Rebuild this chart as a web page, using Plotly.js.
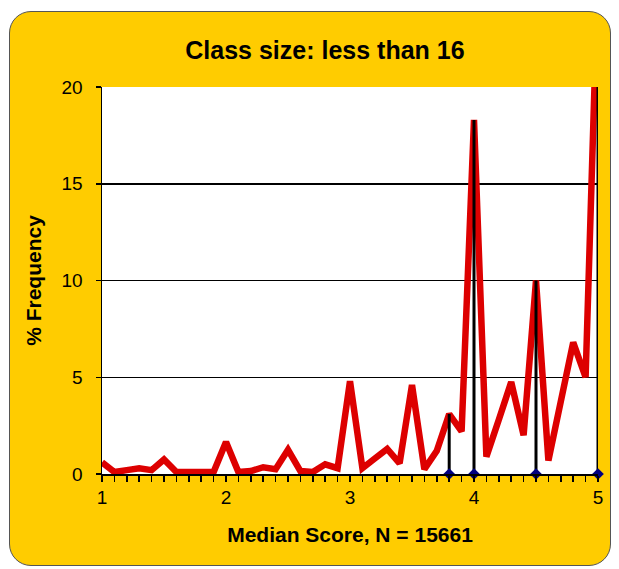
<!DOCTYPE html>
<html>
<head>
<meta charset="utf-8">
<script src="https://cdn.plot.ly/plotly-3.0.1.min.js"></script>
<style>
  html, body { margin: 0; padding: 0; background: #ffffff; }
  #frame { position: absolute; left: 9px; top: 11px; width: 600px; height: 553px;
           background: #FFCC00; border: 1.5px solid #555555; border-radius: 22px; }
  #chart { position: absolute; left: 0; top: 0; width: 619px; height: 569px; }
</style>
</head>
<body>
<div id="frame"></div>
<div id="chart"></div>
<script>
// Median score (x) and % frequency (y)
const scores = [1.0,1.1,1.2,1.3,1.4,1.5,1.6,1.7,1.8,1.9,
                2.0,2.1,2.2,2.3,2.4,2.5,2.6,2.7,2.8,2.9,
                3.0,3.1,3.2,3.3,3.4,3.5,3.6,3.7,3.8,3.9,
                4.0,4.1,4.2,4.3,4.4,4.5,4.6,4.7,4.8,4.9,5.0];
const freq = [0.6,0.1,0.2,0.3,0.2,0.75,0.1,0.1,0.15,0.1,
              1.65,0.1,0.15,0.35,0.25,1.25,0.15,0.1,0.5,0.3,
              4.8,0.3,0.8,1.3,0.55,4.6,0.25,1.2,3.1,2.2,
              18.3,0.9,2.8,4.75,2.0,10.0,0.7,3.7,6.8,5.0,26];
// Highlighted scores (drop lines with diamond markers)
const dropX = [3.8, 4.0, 4.5, 5.0];
const dropY = [3.1, 18.3, 10.0, 26];
// Axis tick labels
const xLabels = ["1", "2", "3", "4", "5"];
const yTicks = [0, 5, 10, 15, 20];

const titleText = "Class size: less than 16";
const xTitle = "Median Score, N = 15661";
const yTitle = "% Frequency";

const lineX = [], lineY = [];
dropX.forEach((x, i) => { lineX.push(x, x, null); lineY.push(0, dropY[i], null); });
const zeros = dropX.map(() => 0);
// every score gets a tick mark; only whole scores get a label
const xTickText = scores.map(v => (xLabels.includes(String(v)) ? String(v) : ""));

const FONT = "Liberation Sans, Arial, sans-serif";

const traces = [
  { x: scores, y: freq, type: "scatter", mode: "lines",
    line: { color: "#DD0000", width: 6.5 }, hoverinfo: "x+y" },
  { x: lineX, y: lineY, type: "scatter", mode: "lines",
    line: { color: "#000000", width: 3 }, hoverinfo: "skip" },
  { x: dropX, y: zeros, type: "scatter", mode: "markers", cliponaxis: false,
    marker: { symbol: "diamond", color: "#000080", size: 9 } }
];

const layout = {
  width: 619, height: 569,
  paper_bgcolor: "rgba(0,0,0,0)",
  plot_bgcolor: "#ffffff",
  showlegend: false,
  margin: { l: 102, r: 21, t: 87, b: 95 },
  font: { family: FONT, color: "#000000", size: 19 },
  title: { text: titleText, x: 0.525, xanchor: "center", y: 0.912, yanchor: "middle",
           font: { family: FONT, size: 25, color: "#000000", weight: "bold" } },
  xaxis: {
    range: [1, 5], tickmode: "array", tickvals: scores, ticktext: xTickText,
    ticks: "outside", ticklen: 6, tickwidth: 1.5, tickcolor: "#000",
    showline: true, linecolor: "#000", linewidth: 1.5,
    showgrid: false, zeroline: false,
    tickfont: { family: FONT, size: 19, color: "#000" },
    title: { text: xTitle, standoff: 20,
             font: { family: FONT, size: 21, color: "#000", weight: "bold" } }
  },
  yaxis: {
    range: [0, 20], tickmode: "array", tickvals: yTicks,
    ticks: "outside", ticklen: 5, tickwidth: 1.5, tickcolor: "#000",
    ticklabelstandoff: 9,
    showline: true, linecolor: "#000", linewidth: 1.5,
    showgrid: true, gridcolor: "#000000", gridwidth: 1.5, zeroline: false,
    tickfont: { family: FONT, size: 19, color: "#000" },
    title: { text: yTitle, standoff: 14,
             font: { family: FONT, size: 21, color: "#000", weight: "bold" } }
  }
};

Plotly.newPlot("chart", traces, layout, { displayModeBar: false, staticPlot: true });
</script>
</body>
</html>
